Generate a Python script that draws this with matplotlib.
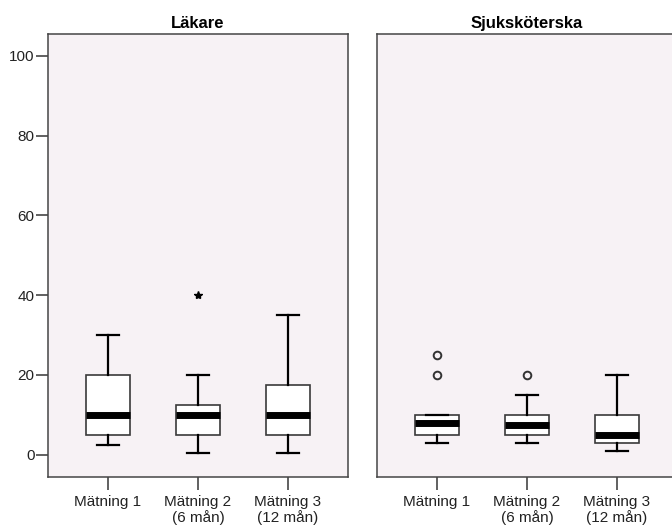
import matplotlib
matplotlib.use("Agg")
import matplotlib.pyplot as plt

plt.rcParams['font.family'] = ['Liberation Sans', 'DejaVu Sans']

categories = ["Mätning 1", "Mätning 2\n(6 mån)", "Mätning 3\n(12 mån)"]
panel_titles = ["Läkare", "Sjuksköterska"]
y_ticks = [0, 20, 40, 60, 80, 100]

# Läkare
lak_whislo = [2.5, 0.5, 0.5]
lak_q1 = [5, 5, 5]
lak_med = [10, 10, 10]
lak_q3 = [20, 12.5, 17.5]
lak_whishi = [30, 20, 35]
lak_fliers = [[], [40], []]

# Sjuksköterska
sjk_whislo = [3, 3, 1]
sjk_q1 = [5, 5, 3]
sjk_med = [7.8, 7.5, 5]
sjk_q3 = [10, 10, 10]
sjk_whishi = [10, 15, 20]
sjk_fliers = [[25, 20], [20], []]

bg = "#F7F2F5"
spine_c = "#454545"

fig = plt.figure(figsize=(6.72, 5.29), dpi=100)
ax1 = fig.add_axes([48/672, 52.5/529, 300/672, 443/529])
ax2 = fig.add_axes([377/672, 52.5/529, 300/672, 443/529])

def stats(wl, q1, med, q3, wh, fl):
    return [dict(whislo=a, q1=b, med=c, q3=d, whishi=e, fliers=f)
            for a, b, c, d, e, f in zip(wl, q1, med, q3, wh, fl)]

data = [
    (ax1, stats(lak_whislo, lak_q1, lak_med, lak_q3, lak_whishi, lak_fliers),
     dict(marker='*', markersize=6, markerfacecolor='black', markeredgecolor='black')),
    (ax2, stats(sjk_whislo, sjk_q1, sjk_med, sjk_q3, sjk_whishi, sjk_fliers),
     dict(marker='o', markersize=5.5, markerfacecolor='none', markeredgecolor='#333333', markeredgewidth=1.4)),
]

for (ax, st, fp), title in zip(data, panel_titles):
    ax.set_facecolor(bg)
    ax.bxp(st, positions=[0, 1, 2], widths=0.49, capwidths=0.24, patch_artist=True,
           boxprops=dict(facecolor='white', edgecolor='#3a3a3a', linewidth=1.2),
           medianprops=dict(color='black', linewidth=5, solid_capstyle='butt'),
           whiskerprops=dict(color='black', linewidth=1.6),
           capprops=dict(color='black', linewidth=1.6),
           flierprops=fp)
    ax.set_xlim(-0.667, 2.667)
    ax.set_ylim(-5.5, 105.6)
    ax.set_xticks([0, 1, 2])
    ax.set_xticklabels(categories, fontsize=11, linespacing=1.15, color='#222222')
    ax.tick_params(axis='x', length=9.5, width=1.2, color=spine_c, pad=3.5)
    for s in ax.spines.values():
        s.set_color(spine_c)
        s.set_linewidth(1.1)
    ax.set_title(title, fontsize=12, fontweight='bold', pad=4)

ax1.set_yticks(y_ticks)
ax1.set_yticklabels([str(v) for v in y_ticks], fontsize=11, color='#222222')
ax1.tick_params(axis='y', length=8.6, width=1.2, color=spine_c, pad=1)
ax2.set_yticks([])

fig.savefig("out.png", dpi=100, facecolor='white')
